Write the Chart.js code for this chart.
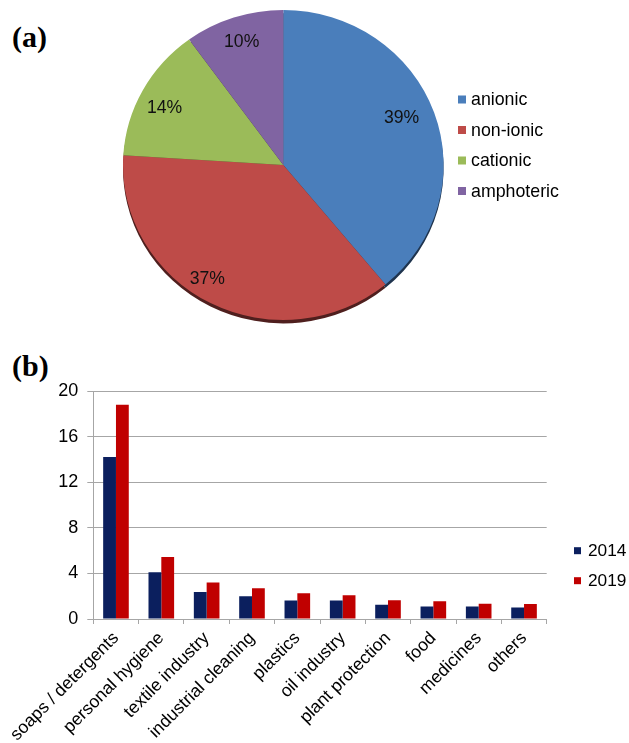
<!DOCTYPE html>
<html>
<head>
<meta charset="utf-8">
<script src="https://cdn.jsdelivr.net/npm/chart.js@4.4.1/dist/chart.umd.min.js"></script>
<style>
  html, body { margin: 0; padding: 0; background: #fff; }
  body { width: 629px; height: 743px; position: relative; overflow: hidden; }
  canvas { position: absolute; left: 0; }
  #pie { top: 0; }
  #bars { top: 345px; }
  .panel { position: absolute; left: 12px; font: bold 30px "Liberation Serif", "Times New Roman", serif; color: #000; line-height: 1; }
</style>
</head>
<body>
<div class="panel" style="top:22px">(a)</div>
<div class="panel" style="top:351px">(b)</div>
<canvas id="pie" width="629" height="345"></canvas>
<canvas id="bars" width="629" height="398"></canvas>
<script>
// Surfactant types (share, %)
const surfactantTypes = ['anionic', 'non-ionic', 'cationic', 'amphoteric'];
const surfactantShares = [39, 37, 14, 10];
const typeColors = ['#4a7ebb', '#be4b48', '#9bbb59', '#8064a2'];

// Consumption by field of application
const applications = ['soaps / detergents', 'personal hygiene', 'textile industry', 'industrial cleaning',
  'plastics', 'oil industry', 'plant protection', 'food', 'medicines', 'others'];
const values2014 = [14.2, 4.1, 2.37, 2.0, 1.62, 1.62, 1.25, 1.1, 1.1, 1.0];
const values2019 = [18.8, 5.43, 3.2, 2.7, 2.25, 2.08, 1.64, 1.55, 1.33, 1.32];
const seriesNames = ['2014', '2019'];
const seriesColors = ['#0b1f5e', '#c00000'];
const yTicks = [0, 4, 8, 12, 16, 20];

const FONT = '"Liberation Sans", Arial, sans-serif';
Chart.defaults.font.family = FONT;
Chart.defaults.color = '#000';
Chart.defaults.animation = false;

// Legend drawn at fixed spots beside each plot
const sideLegend = {
  id: 'sideLegend',
  afterDraw(chart, args, opts) {
    const ctx = chart.ctx;
    const items = chart.options.plugins.legend.labels.generateLabels(chart);
    ctx.save();
    ctx.font = opts.font;
    ctx.textBaseline = 'middle';
    ctx.textAlign = 'left';
    items.forEach((it, i) => {
      const y = opts.y + i * opts.step;
      ctx.fillStyle = it.fillStyle;
      ctx.fillRect(opts.x, y - opts.box / 2, opts.box, opts.box);
      ctx.fillStyle = '#000';
      ctx.fillText(it.text, opts.textX, y + 1);
    });
    ctx.restore();
  }
};

// Slightly flattened pie with a dark rim underneath, plus percentage labels
const pieLook = {
  id: 'pieLook',
  beforeDatasetsDraw(chart, args, opts) {
    const ctx = chart.ctx;
    const meta = chart.getDatasetMeta(0);
    const c = meta.data[0];
    ctx.save();
    ctx.translate(c.x, c.y);
    ctx.scale(1, opts.squash);
    ctx.translate(-c.x, -c.y);
    ctx.save();
    ctx.translate(0, opts.rim);
    ctx.filter = 'brightness(0.42) blur(0.6px)';
    meta.data.forEach(a => a.draw(ctx));
    ctx.restore();
  },
  afterDatasetsDraw(chart, args, opts) {
    const ctx = chart.ctx;
    ctx.restore();
    const meta = chart.getDatasetMeta(0);
    const data = chart.data.datasets[0].data;
    const total = data.reduce((s, v) => s + v, 0);
    ctx.save();
    ctx.font = opts.font;
    ctx.fillStyle = '#111';
    ctx.textAlign = 'center';
    ctx.textBaseline = 'middle';
    meta.data.forEach((a, i) => {
      const p = a.getProps(['x', 'y', 'startAngle', 'endAngle', 'outerRadius'], true);
      const mid = (p.startAngle + p.endAngle) / 2 + opts.turn[i] * Math.PI / 180;
      const r = p.outerRadius * opts.reach[i];
      const x = p.x + Math.cos(mid) * r;
      const y = p.y + Math.sin(mid) * r * opts.squash;
      ctx.fillText(Math.round(data[i] / total * 100) + '%', x, y + 1);
    });
    ctx.restore();
  }
};

new Chart(document.getElementById('pie'), {
  type: 'pie',
  data: {
    labels: surfactantTypes,
    datasets: [{ data: surfactantShares, backgroundColor: typeColors, borderWidth: 0 }]
  },
  options: {
    responsive: false,
    layout: { padding: { left: 123, right: 185.4, top: 4.7, bottom: 19.7 } },
    plugins: {
      legend: { display: false },
      tooltip: { enabled: false },
      sideLegend: { x: 458, textX: 471, y: 99.5, step: 30.5, box: 8, font: '17.8px ' + FONT },
      pieLook: {
        squash: 0.967, rim: 3.5, font: '17.6px ' + FONT,
        reach: [0.80, 0.87, 0.83, 0.84], turn: [-3, 6, -2, 0]
      }
    }
  },
  plugins: [pieLook, sideLegend]
});

const gridGray = '#a6a6a6';
new Chart(document.getElementById('bars'), {
  type: 'bar',
  data: {
    labels: applications,
    datasets: [
      { label: seriesNames[0], data: values2014, backgroundColor: seriesColors[0] },
      { label: seriesNames[1], data: values2019, backgroundColor: seriesColors[1] }
    ]
  },
  options: {
    responsive: false,
    layout: { padding: { left: 0, right: 82.3, top: 46, bottom: 0 } },
    datasets: { bar: { categoryPercentage: 0.565, barPercentage: 1, borderWidth: 0 } },
    scales: {
      x: {
        grid: { display: true, drawOnChartArea: false, drawTicks: true, tickLength: 5, color: gridGray, offset: true },
        border: { display: true, color: gridGray },
        ticks: { autoSkip: false, maxRotation: 45, minRotation: 45, font: { size: 17.6 }, color: '#000', padding: 4 },
        afterFit(s) { s.height = 124; s.paddingLeft = 0; s.paddingRight = 0; }
      },
      y: {
        min: yTicks[0], max: yTicks[yTicks.length - 1],
        afterBuildTicks(s) { s.ticks = yTicks.map(v => ({ value: v })); },
        grid: { color: gridGray, tickLength: 6, drawTicks: true },
        border: { display: true, color: gridGray },
        ticks: { font: { size: 18 }, color: '#000', padding: 9 },
        afterFit(s) { s.width = 93.3; s.paddingTop = 0; s.paddingBottom = 0; }
      }
    },
    plugins: {
      legend: { display: false },
      tooltip: { enabled: false },
      sideLegend: { x: 574, textX: 588, y: 205.7, step: 30, box: 7, font: '17.3px ' + FONT }
    }
  },
  plugins: [sideLegend]
});
</script>
</body>
</html>
